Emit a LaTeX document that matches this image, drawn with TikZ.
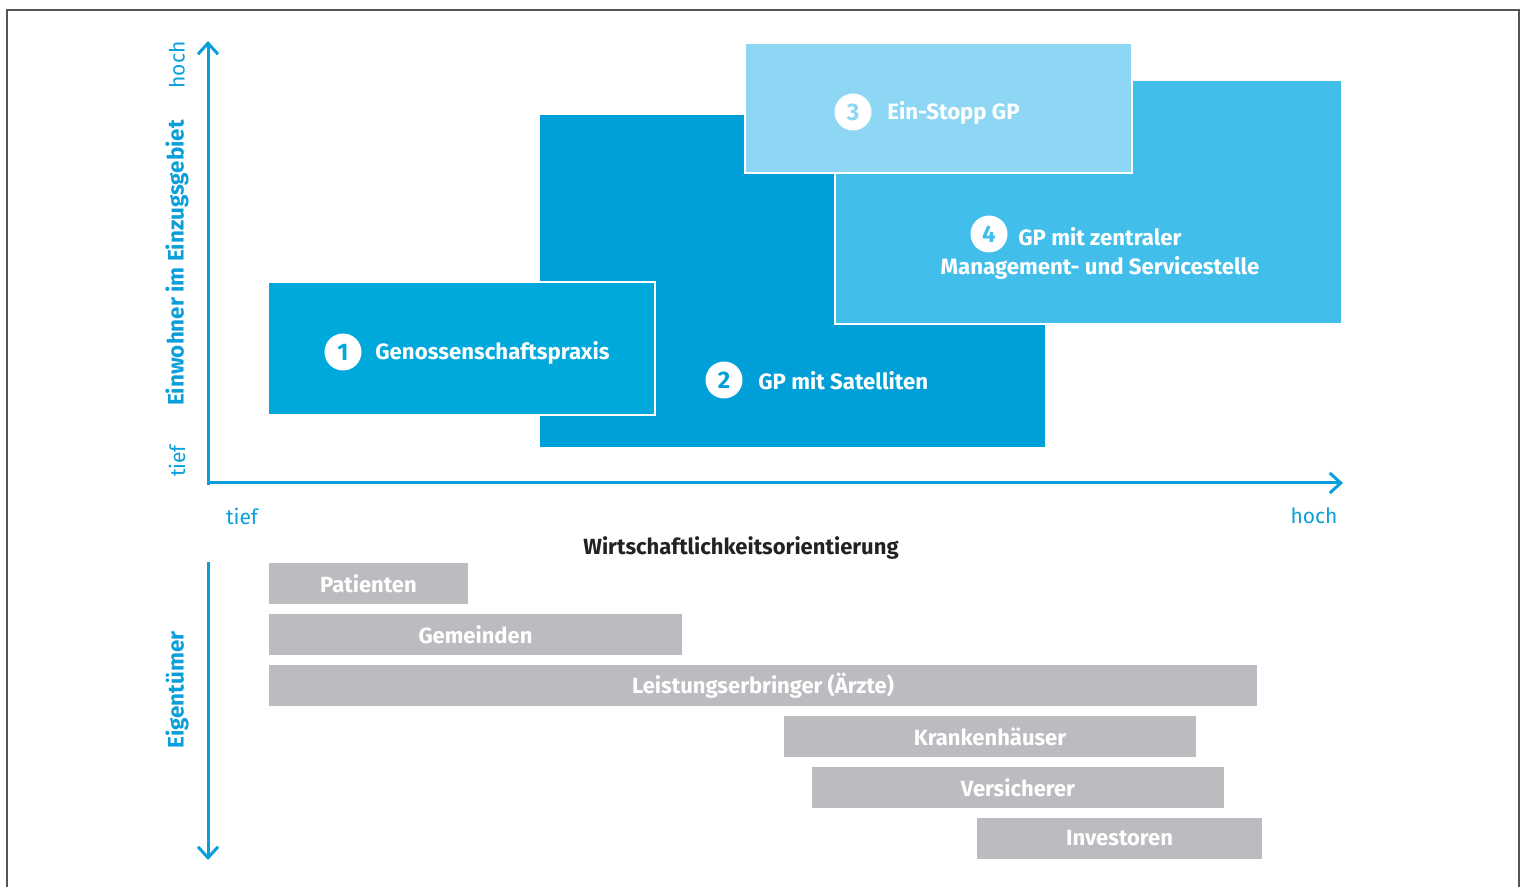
\documentclass[tikz,border=0pt]{standalone}
\usepackage{fontspec}
\setmainfont{Fira Sans}
\usetikzlibrary{arrows.meta}
\definecolor{axisblue}{HTML}{0A9FDA}
\definecolor{boxA}{HTML}{00A9DC}
\definecolor{boxB}{HTML}{009FD8}
\definecolor{boxC}{HTML}{8DD7F5}
\definecolor{boxD}{HTML}{41BEE9}
\definecolor{bargray}{HTML}{BBBCC0}
\definecolor{frame}{HTML}{555555}
\definecolor{titledark}{HTML}{222222}
\tikzset{
  axis/.style={draw=axisblue,line width=1.5pt,-{Straight Barb[length=5.5pt,width=10pt,line width=1.5pt]}},
  field/.style={draw=white,line width=1.2pt},
  bar/.style={fill=bargray,draw=none,text=white,font=\fontsize{11pt}{13pt}\selectfont\bfseries,inner sep=0pt},
  num/.style={circle,fill=white,minimum size=18.5pt,inner sep=0pt,font=\fontsize{12pt}{13pt}\selectfont\bfseries},
  lbl/.style={text=white,font=\fontsize{11.1pt}{13pt}\selectfont\bfseries,inner sep=0pt},
  axlbl/.style={text=axisblue,font=\fontsize{10.5pt}{12pt}\selectfont,inner sep=0pt},
  axtitle/.style={text=axisblue,font=\fontsize{11.2pt}{13pt}\selectfont\bfseries,inner sep=0pt}
}
\begin{document}
\begin{tikzpicture}[x=0.5pt,y=-0.5pt]
\useasboundingbox (0,0) rectangle (1522,887);
% frame
\draw[frame,line width=1pt] (7,887) -- (7,10) -- (1519,10) -- (1519,887);
% fields
\fill[boxB] (540,115) rectangle (1045,447);
\path[field,fill=boxD] (835,80) rectangle (1342,324);
\fill[white] (1341,78) rectangle (1344,326);
\path[field,fill=boxC] (745,43) rectangle (1132,173);
\path[field,fill=boxA] (268,282) rectangle (655,415);
% labels in fields
\node[num,text=boxA] (n1) at (343,352) {1};
\node[lbl,anchor=west] (t1) at (375,353) {Genossenschaftspraxis};
\node[num,text=boxB] (n2) at (724,380) {2};
\node[lbl,anchor=west] (t2) at (758,381) {GP mit Satelliten};
\node[num,text=boxC] (n3) at (853,112) {3};
\node[lbl,anchor=west] (t3) at (887,113) {Ein-Stopp GP};
\node[num,text=boxD] (n4) at (989,234) {4};
\node[lbl,anchor=west] (t4a) at (1018,237) {GP mit zentraler};
\node[lbl] (t4b) at (1100,268) {Management- und Servicestelle};
% axes
\coordinate (o) at (208,483);
\coordinate (ytop) at (208,41);
\coordinate (xend) at (1343,483);
\draw[axis] (208,485) -- (ytop);
\draw[axis] (206.5,483) -- (xend);
\coordinate (ltop) at (208,562);
\coordinate (lbot) at (208,860);
\draw[axis] (ltop) -- (lbot);
% axis labels
\node[axlbl,rotate=90] (yhoch) at (177,65) {hoch};
\node[axtitle,rotate=90] (ytitle) at (177,263) {Einwohner im Einzugsgebiet};
\node[axlbl,rotate=90] (ytief) at (177,461) {tief};
\node[axlbl] (xtief) at (242,516) {tief};
\node[axlbl] (xhoch) at (1314,516) {hoch};
\node[font=\fontsize{11pt}{13pt}\selectfont\bfseries,text=titledark] (xtitle) at (741,548) {Wirtschaftlichkeitsorientierung};
\node[axtitle,rotate=90] (own) at (177,690) {Eigentümer};
% owner bars
\path[bar] (269,563) rectangle node (b1) {Patienten} (468,604);
\path[bar] (269,614) rectangle node (b2) {Gemeinden} (682,655);
\path[bar] (269,665) rectangle node (b3) {Leistungserbringer (Ärzte)} (1257,706);
\path[bar] (784,716) rectangle node (b4) {Krankenhäuser} (1196,757);
\path[bar] (812,767) rectangle node (b5) {Versicherer} (1224,808);
\path[bar] (977,818) rectangle node (b6) {Investoren} (1262,859);
\end{tikzpicture}
\end{document}
